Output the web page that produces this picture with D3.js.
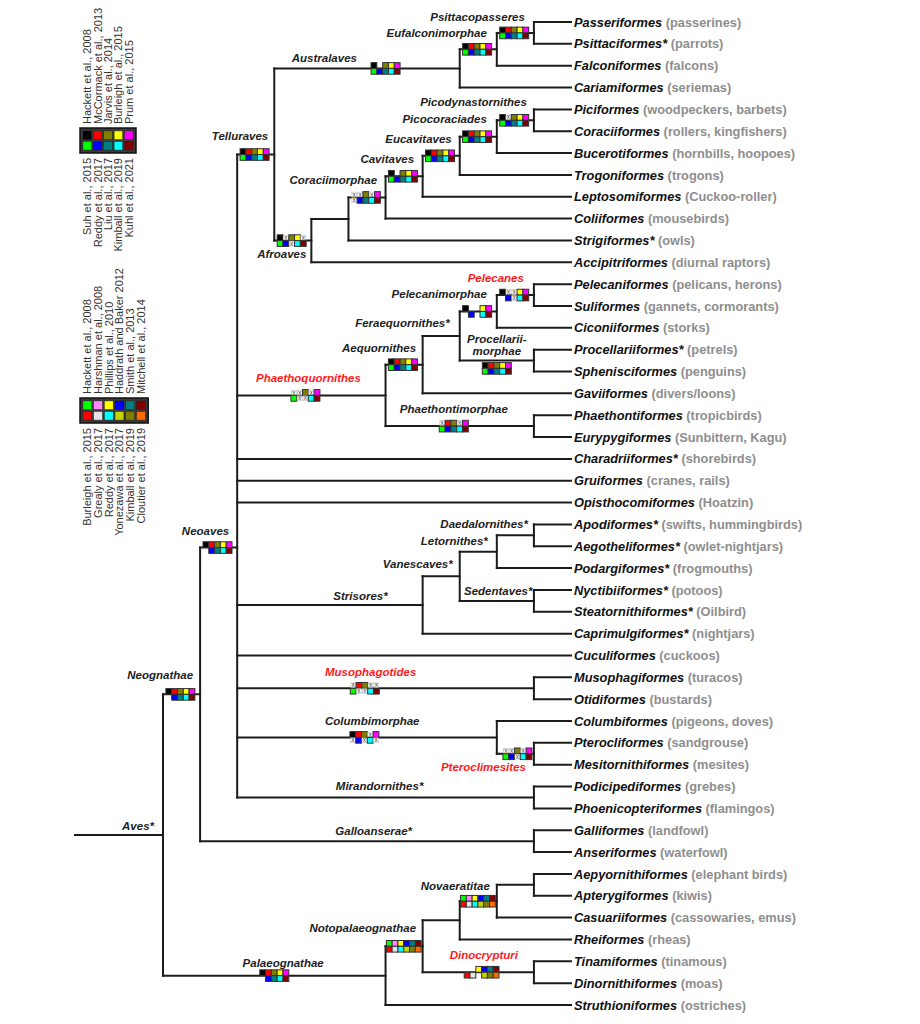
<!DOCTYPE html>
<html><head><meta charset="utf-8">
<script src="https://cdn.jsdelivr.net/npm/d3@7"></script>
<style>
html,body{margin:0;padding:0;background:#fff;}
svg{display:block;font-family:"Liberation Sans",Arial,Helvetica,sans-serif;}
</style></head><body>
<svg id="chart" width="920" height="1024"></svg>
<script>
// ===================== DATA =====================
// Tree topology (Newick); unnamed internal nodes have no label
const treeNewick =
 "(((((((Passeriformes,Psittaciformes*)Psittacopasseres,Falconiformes)Eufalconimorphae,Cariamiformes)Australaves," +
 "(((((((Piciformes,Coraciiformes)Picodynastornithes,Bucerotiformes)Picocoraciades,Trogoniformes)Eucavitaves,Leptosomiformes)Cavitaves,Coliiformes)Coraciimorphae,Strigiformes*),Accipitriformes)Afroaves)Telluraves," +
 "(((((Pelecaniformes,Suliformes)Pelecanes,Ciconiiformes)Pelecanimorphae,(Procellariiformes*,Sphenisciformes)Procellariimorphae)Feraequornithes*,Gaviiformes)Aequornithes,(Phaethontiformes,Eurypygiformes)Phaethontimorphae)Phaethoquornithes," +
 "Charadriiformes*,Gruiformes,Opisthocomiformes," +
 "((((Apodiformes*,Aegotheliformes*)Daedalornithes*,Podargiformes*)Letornithes*,(Nyctibiiformes*,Steatornithiformes*)Sedentaves*)Vanescaves*,Caprimulgiformes*)Strisores*," +
 "Cuculiformes,(Musophagiformes,Otidiformes)Musophagotides,(Columbiformes,(Pterocliformes,Mesitornithiformes)Pteroclimesites)Columbimorphae,(Podicipediformes,Phoenicopteriformes)Mirandornithes*)Neoaves," +
 "(Galliformes,Anseriformes)Galloanserae*)Neognathae," +
 "(((((Aepyornithiformes,Apterygiformes),Casuariiformes)Novaeratitae,Rheiformes),(Tinamiformes,Dinornithiformes)Dinocrypturi)Notopalaeognathae,Struthioniformes)Palaeognathae)Aves*;";

const orders = ["Passeriformes","Psittaciformes*","Falconiformes","Cariamiformes","Piciformes","Coraciiformes",
 "Bucerotiformes","Trogoniformes","Leptosomiformes","Coliiformes","Strigiformes*","Accipitriformes",
 "Pelecaniformes","Suliformes","Ciconiiformes","Procellariiformes*","Sphenisciformes","Gaviiformes",
 "Phaethontiformes","Eurypygiformes","Charadriiformes*","Gruiformes","Opisthocomiformes","Apodiformes*",
 "Aegotheliformes*","Podargiformes*","Nyctibiiformes*","Steatornithiformes*","Caprimulgiformes*","Cuculiformes",
 "Musophagiformes","Otidiformes","Columbiformes","Pterocliformes","Mesitornithiformes","Podicipediformes",
 "Phoenicopteriformes","Galliformes","Anseriformes","Aepyornithiformes","Apterygiformes","Casuariiformes",
 "Rheiformes","Tinamiformes","Dinornithiformes","Struthioniformes"];

const commonNames = ["passerines","parrots","falcons","seriemas","woodpeckers, barbets","rollers, kingfishers",
 "hornbills, hoopoes","trogons","Cuckoo-roller","mousebirds","owls","diurnal raptors",
 "pelicans, herons","gannets, cormorants","storks","petrels","penguins","divers/loons",
 "tropicbirds","Sunbittern, Kagu","shorebirds","cranes, rails","Hoatzin","swifts, hummingbirds",
 "owlet-nightjars","frogmouths","potoos","Oilbird","nightjars","cuckoos",
 "turacos","bustards","pigeons, doves","sandgrouse","mesites","grebes",
 "flamingos","landfowl","waterfowl","elephant birds","kiwis","cassowaries, emus",
 "rheas","tinamous","moas","ostriches"];

// Support matrices: 1 = recovered, x = not recovered, 0 = not examined (top row / bottom row)
const supportClades = ["Psittacopasseres","Eufalconimorphae","Australaves","Telluraves","Picodynastornithes",
 "Picocoraciades","Eucavitaves","Cavitaves","Coraciimorphae","Afroaves","Pelecanes","Pelecanimorphae",
 "Procellariimorphae","Aequornithes","Phaethoquornithes","Phaethontimorphae","Musophagotides","Columbimorphae",
 "Pteroclimesites","Neoaves","Neognathae","Palaeognathae","Novaeratitae","Notopalaeognathae","Dinocrypturi"];
const supportCodes = ["11111/11111","11111/11111","10111/11111","11111/11111","1x111/11111",
 "11111/11111","11111/11111","10111/11111","xx1x1/x1111","1x11x/11x11","1xx11/01x11","10011/01011",
 "11111/11111","11111/11111","xx1x1/1xx11","x11x1/11111","x11xx/1xx11","111x1/x1x1x",
 "xx1x1/11x11","11111/01111","11111/01111","11111/01111","111111/111111","111111/111111","001111/110111"];

const redClades = ["Pelecanes","Phaethoquornithes","Musophagotides","Pteroclimesites","Dinocrypturi"];

const neoavesStudies = ["Hackett et al., 2008","McCormack et al., 2013","Jarvis et al., 2014","Burleigh et al., 2015","Prum et al., 2015",
 "Suh et al., 2015","Reddy et al., 2017","Liu et al., 2017","Kimball et al., 2019","Kuhl et al., 2021"];
const neoavesColors = ["#000000","#ff0000","#808000","#ffff00","#ff00ff","#00ff00","#0000ff","#008080","#00ffff","#800000"];
const palaeoStudies = ["Hackett et al., 2008","Harshman et al., 2008","Phillips et al., 2010","Haddrath and Baker 2012","Smith et al., 2013","Mitchell et al., 2014",
 "Burleigh et al., 2015","Grealy et al., 2017","Reddy et al., 2017","Yonezawa et al., 2017","Kimball et al., 2019","Cloutier et al., 2019"];
const palaeoColors = ["#00ff00","#ff88ff","#ffff00","#0000ff","#008080","#800000","#ff0000","#e4e4e4","#00ffff","#c4d400","#808000","#ff6a00"];

// ===================== PRESENTATION =====================
const cladeLayout = {
  "Psittacopasseres": {end: 9, dy: -12},
  "Eufalconimorphae": {end: 10, dy: -12.5},
  "Australaves": {at: 0.27, dy: -6, box: 0.60},
  "Telluraves": {end: 6, dy: -15},
  "Afroaves": {end: 5, dy: 17},
  "Picodynastornithes": {end: 7, dy: -14},
  "Picocoraciades": {end: 10, dy: -13.5},
  "Cavitaves": {end: 8.5},
  "Coraciimorphae": {end: 8.5},
  "Pelecanes": {end: 10},
  "Pelecanimorphae": {end: 10},
  "Feraequornithes*": {end: 10, dy: -9.5},
  "Procellariimorphae": {at: 0.5, dy: -18, lines: ["Procellarii-", "morphae"], box: 0.5, boxBelow: true},
  "Aequornithes": {end: 6.5},
  "Phaethoquornithes": {at: 0.48, dy: -13.5, box: 0.46},
  "Phaethontimorphae": {at: 0.46, box: 0.46},
  "Daedalornithes*": {end: 6},
  "Letornithes*": {end: 9, dy: -6.5},
  "Vanescaves*": {end: 7, dy: -8},
  "Sedentaves*": {end: 1.5, dy: -5.5},
  "Strisores*": {at: 0.665, dy: -4.5},
  "Musophagotides": {at: 0.45, dy: -12.5, box: 0.43},
  "Columbimorphae": {at: 0.52, dy: -12.5, box: 0.49},
  "Pteroclimesites": {end: 8, dy: 17, boxEnd: 2},
  "Mirandornithes*": {at: 0.48, dy: -7},
  "Neoaves": {end: 8},
  "Neognathae": {end: 7, dy: -15},
  "Galloanserae*": {at: 0.52, dy: -6},
  "Aves*": {end: 9, dy: -5},
  "Palaeognathae": {at: 0.54, dy: -9, box: 0.5},
  "Notopalaeognathae": {end: 6.5, dy: -14.5},
  "Novaeratitae": {end: 7, dy: -11.5},
  "Dinocrypturi": {at: 0.55, box: 0.53}
};

// ===================== BUILD =====================
function parseNewick(s) {
  let i = 0;
  function node() {
    const n = {};
    if (s[i] === "(") {
      i++;
      n.children = [node()];
      while (s[i] === ",") { i++; n.children.push(node()); }
      i++; // ')'
    }
    let name = "";
    while (i < s.length && !",();".includes(s[i])) name += s[i++];
    n.name = name;
    return n;
  }
  return node();
}

const root = d3.hierarchy(parseNewick(treeNewick));
d3.cluster().size([1, 1]).separation(() => 1)(root);
const leaves = root.leaves();

const yS = d3.scaleLinear().domain(d3.extent(leaves, d => d.x)).range([22, 1005]);
const xS = d3.scaleLinear().domain([0, 1]).range([163, 571]);
const stemLen = 88;

const svg = d3.select("#chart");
const byName = new Map(root.descendants().filter(d => d.data.name).map(d => [d.data.name, d]));
const parentX = d => d.parent ? xS(d.parent.y) : xS(0) - stemLen;

// --- branches ---
const gLines = svg.append("g").attr("stroke", "#1c1c1c").attr("stroke-width", 2).attr("stroke-linecap", "square");
gLines.selectAll("line.v").data(root.descendants().filter(d => d.children)).join("line")
  .attr("class", "v")
  .attr("x1", d => xS(d.y)).attr("x2", d => xS(d.y))
  .attr("y1", d => yS(d3.min(d.children, c => c.x)))
  .attr("y2", d => yS(d3.max(d.children, c => c.x)));
gLines.selectAll("line.h").data(root.descendants()).join("line")
  .attr("class", "h")
  .attr("x1", d => parentX(d)).attr("x2", d => xS(d.y))
  .attr("y1", d => yS(d.x)).attr("y2", d => yS(d.x));

// --- leaf labels ---
const leafOrder = new Map(orders.map((o, i) => [o, i]));
const gLeaf = svg.append("g").attr("font-size", 12.8).attr("font-weight", "bold");
leaves.forEach(d => {
  const t = gLeaf.append("text").attr("x", xS(d.y) + 3).attr("y", yS(d.x) + 4.6);
  t.append("tspan").attr("font-style", "italic").attr("fill", "#111").text(d.data.name);
  t.append("tspan").attr("fill", "#8e8e8e").text(" (" + commonNames[leafOrder.get(d.data.name)] + ")");
});

// --- support boxes ---
const gBox = svg.append("g");
const cell = 5.8;
supportClades.forEach((name, i) => {
  const d = byName.get(name);
  if (!d) return;
  const rows = supportCodes[i].split("/");
  const ncol = rows[0].length;
  const colors = ncol === 5 ? neoavesColors : palaeoColors;
  const L = cladeLayout[name] || {};
  const px = parentX(d), cx = xS(d.y), by = yS(d.x);
  const w = ncol * cell;
  const boxEnd = L.boxEnd != null ? L.boxEnd : (ncol === 6 ? 1.5 : 5.2);
  const left = L.box != null ? px + L.box * (cx - px) - w / 2 : cx - boxEnd - w;
  const top = L.boxBelow ? by + 2 : by - cell;
  rows.forEach((row, r) => {
    row.split("").forEach((ch, c) => {
      const rx = left + c * cell, ry = top + r * cell;
      if (ch === "1") {
        gBox.append("rect").attr("x", rx).attr("y", ry).attr("width", cell).attr("height", cell)
          .attr("fill", colors[r * ncol + c]).attr("stroke", "#333").attr("stroke-width", 1);
      } else if (ch === "x") {
        gBox.append("rect").attr("x", rx + 0.5).attr("y", ry + 0.5).attr("width", cell - 1).attr("height", cell - 1)
          .attr("fill", "#fff").attr("stroke", "#bbb").attr("stroke-width", 0.6);
        gBox.append("text").attr("x", rx + cell / 2).attr("y", ry + cell / 2 + 2)
          .attr("text-anchor", "middle").attr("font-size", 6.5).attr("fill", "#444").text("x");
      }
    });
  });
});

// --- clade labels ---
const gLab = svg.append("g").attr("font-size", 11.5).attr("font-weight", "bold").attr("font-style", "italic");
root.descendants().filter(d => d.children && d.data.name).forEach(d => {
  const name = d.data.name;
  const L = cladeLayout[name] || {};
  const px = parentX(d), cx = xS(d.y), by = yS(d.x);
  const hasBox = supportClades.includes(name);
  const dy = L.dy != null ? L.dy : (hasBox ? -13 : -7);
  let tx, anchor;
  if (L.at != null) { tx = px + L.at * (cx - px); anchor = "middle"; }
  else { tx = cx - (L.end != null ? L.end : 8); anchor = "end"; }
  const lines = L.lines || [name];
  lines.forEach((ln, k) => {
    gLab.append("text").attr("x", tx).attr("y", by + dy + k * 12)
      .attr("text-anchor", anchor)
      .attr("fill", redClades.includes(name) ? "#ff1a1a" : "#222")
      .text(ln);
  });
});

// --- legends ---
function drawLegend(studies, colors, ncol, x0, y0, cw) {
  const ch = 10.5, pad = 2;
  const g = svg.append("g");
  g.append("rect").attr("x", x0).attr("y", y0).attr("width", ncol * cw + 2 * pad).attr("height", 2 * ch + 2 * pad)
    .attr("fill", "#3a3a3a").attr("stroke", "#111").attr("stroke-width", 1.5);
  for (let r = 0; r < 2; r++) {
    for (let c = 0; c < ncol; c++) {
      g.append("rect").attr("x", x0 + pad + c * cw + 0.9).attr("y", y0 + pad + r * ch + 0.9)
        .attr("width", cw - 1.8).attr("height", ch - 1.8)
        .attr("fill", colors[r * ncol + c]).attr("stroke", "#222").attr("stroke-width", 0.5);
    }
  }
  const gt = g.append("g").attr("font-size", 11).attr("fill", "#333");
  for (let c = 0; c < ncol; c++) {
    const tx = x0 + pad + c * cw + cw / 2 + 4;
    const ty1 = y0 - 4;
    gt.append("text").attr("transform", `translate(${tx},${ty1}) rotate(-90)`)
      .attr("text-anchor", "start").text(studies[c]);
    const ty2 = y0 + 2 * ch + 2 * pad + 5;
    gt.append("text").attr("transform", `translate(${tx},${ty2}) rotate(-90)`)
      .attr("text-anchor", "end").text(studies[ncol + c]);
  }
}
drawLegend(neoavesStudies, neoavesColors, 5, 80, 128, 10.4);
drawLegend(palaeoStudies, palaeoColors, 6, 80, 398, 10.7);
</script>
</body></html>
